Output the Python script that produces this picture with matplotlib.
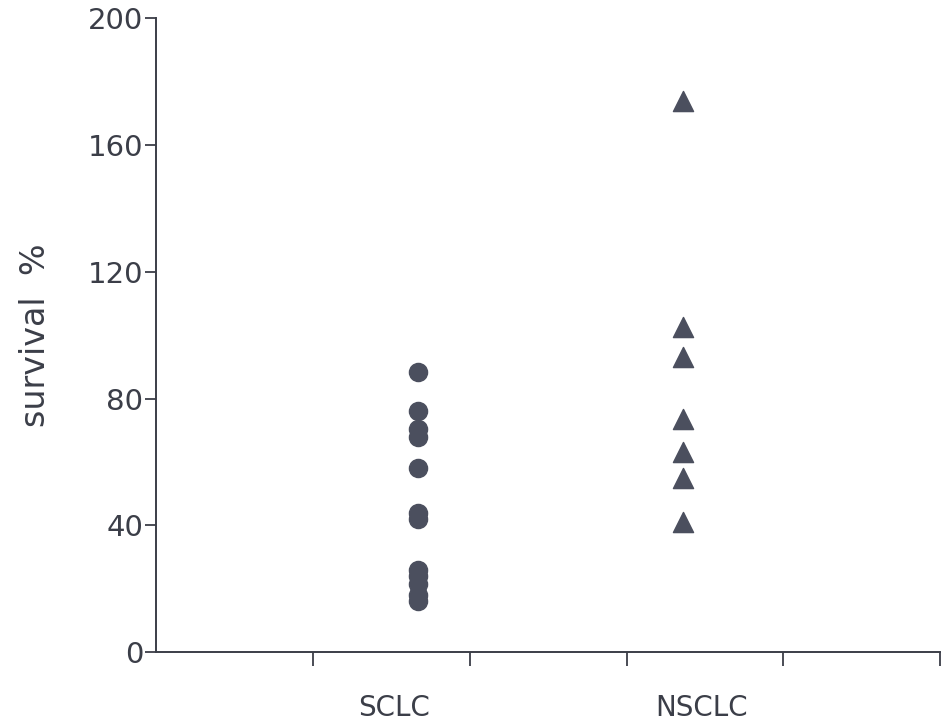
import numpy as np
import matplotlib
matplotlib.use("Agg")
import matplotlib.pyplot as plt

plt.rcParams.update({"font.family": ["DejaVu Sans"]})

# survival (%) per cell line, read per group
groups = ["SCLC", "NSCLC"]
sclc = [88.5, 76, 70.5, 68, 58, 44, 42, 26, 24, 21.5, 18, 16]
nsclc = [174, 102.5, 93, 73.5, 63, 55, 41]

INK = "#3b3e48"
DOT = "#4b4f5e"

fig = plt.figure(figsize=(9.45, 7.23), dpi=100)
ax = fig.add_axes([0.165, 0.098, 0.83, 0.877])

ax.scatter(np.full(len(sclc), 1.67), sclc, s=170, marker="o", color=DOT, zorder=3)
ax.scatter(np.full(len(nsclc), 3.36), nsclc, s=210, marker="^", color=DOT, zorder=3)

ax.set_xlim(0, 5)
ax.set_ylim(0, 200)
ax.set_yticks(np.arange(0, 201, 40))
ax.set_xticks([1, 2, 3, 4, 5])
ax.set_xticklabels([])
ax.set_xticks([1.52, 3.48], groups, minor=True)
ax.tick_params(axis="x", which="minor", length=0, pad=30, labelsize=20, labelcolor=INK)
ax.tick_params(axis="x", which="major", length=10, width=1.3, color=INK)
ax.tick_params(axis="y", length=8, width=1.3, color=INK, labelsize=21, labelcolor=INK, pad=1)

for s in ("top", "right"):
    ax.spines[s].set_visible(False)
for s in ("left", "bottom"):
    ax.spines[s].set_color(INK)
    ax.spines[s].set_linewidth(1.4)

ax.set_ylabel("survival  %", fontsize=24, color=INK, labelpad=26)

fig.savefig("out.png", dpi=100)
